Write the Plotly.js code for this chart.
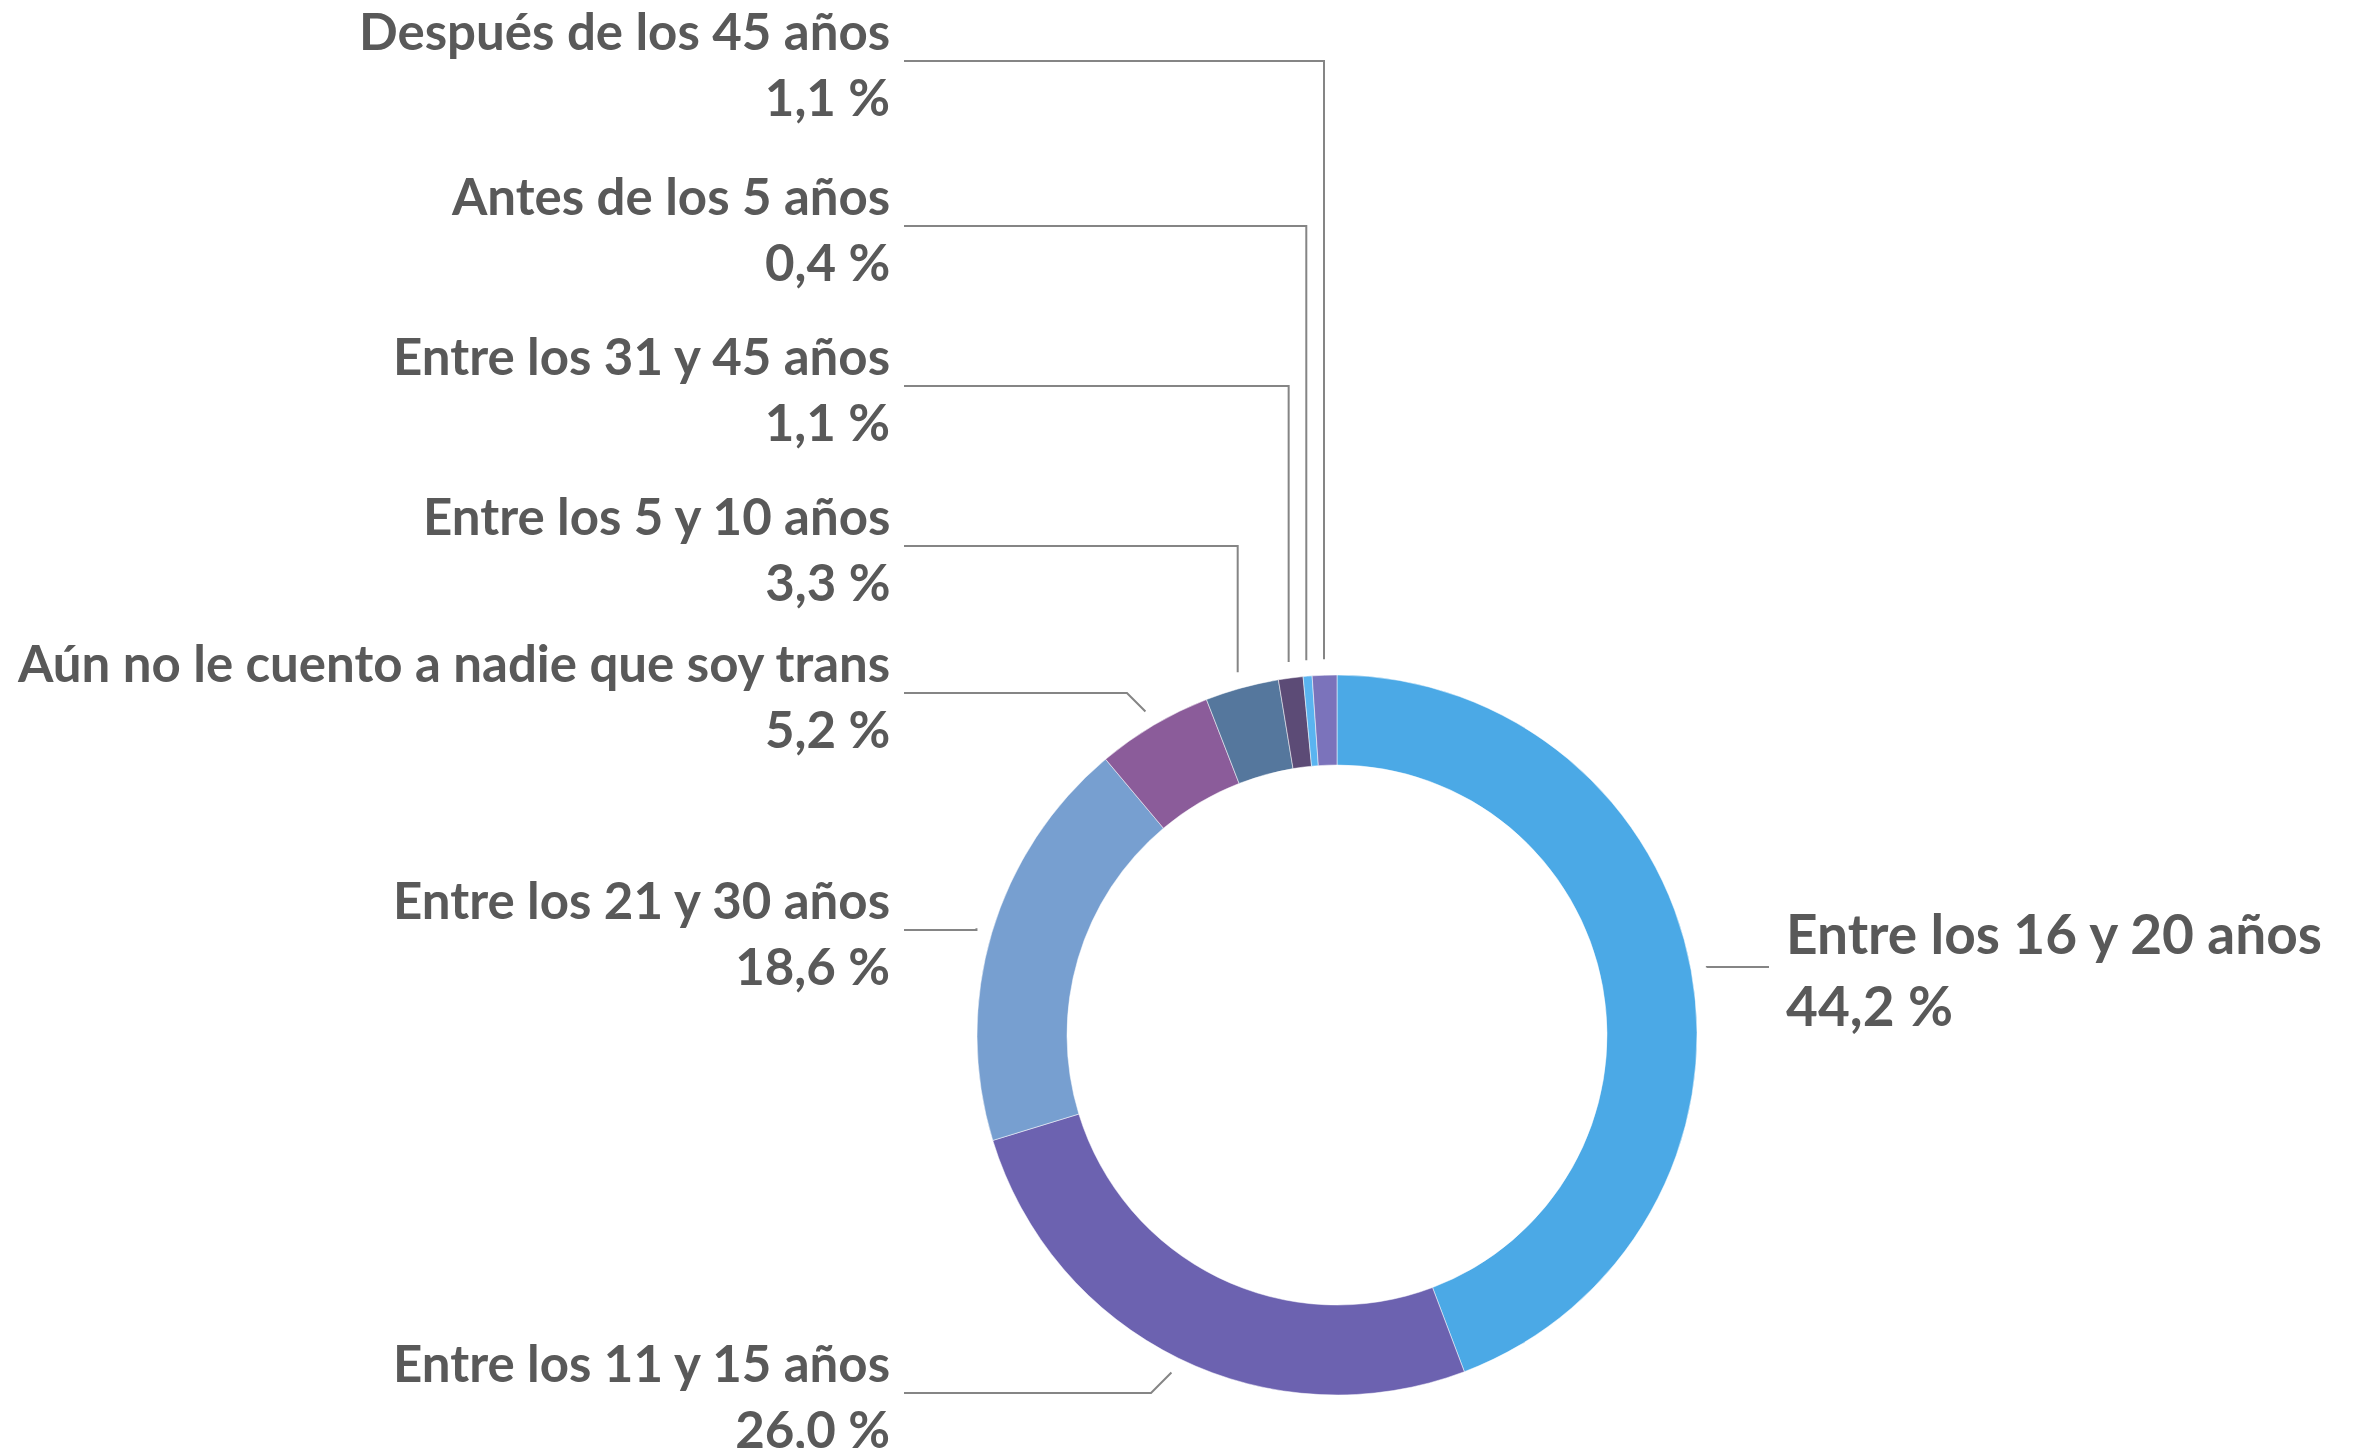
<!DOCTYPE html>
<html><head><meta charset="utf-8">
<script src="https://cdn.plot.ly/plotly-3.0.1.min.js"></script>
<style>html,body{margin:0;padding:0;background:#fff}#chart{width:2365px;height:1448px}</style>
</head><body><div id="chart"></div>
<script>
// ---- data ----
const categories = ["Entre los 16 y 20 años","Entre los 11 y 15 años","Entre los 21 y 30 años","Aún no le cuento a nadie que soy trans","Entre los 5 y 10 años","Entre los 31 y 45 años","Antes de los 5 años","Después de los 45 años"];
const values = [44.2, 26.0, 18.6, 5.2, 3.3, 1.1, 0.4, 1.1];
const colors = ["#4BA9E6","#6C62B0","#779FD0","#8B5C9A","#55779D","#5C4B76","#5AB4F0","#7B73BB"];

// ---- layout config (pixels) ----
const W = 2365, H = 1448;
const cx = 1337, cy = 1035, R = 360, hole = 0.75;
const labelLineY = [967, 1393, 930, 693, 546, 386, 226, 61];
const labelSide  = ["right","left","left","left","left","left","left","left"];
const leftTextX = 892, leftLineX = 904, rightTextX = 1784, rightLineX = 1769;
const textColor = "#595959", lineColor = "#858585";
const fontFamily = "Lato, 'Open Sans', sans-serif";

function fmt(v){ return v.toFixed(1).replace('.', ',') + ' %'; }

const total = values.reduce((a,b)=>a+b,0);
let cum = 0;
const shapes = [], annotations = [];
values.forEach((v,i)=>{
  const th = (cum + v/2)/total*2*Math.PI;
  cum += v;
  const sx = cx + (R+16)*Math.sin(th);
  const sy = cy - (R+16)*Math.cos(th);
  const ly = labelLineY[i];
  const dy = sy - ly;
  let path;
  if (labelSide[i] === 'left') {
    let ex;
    if (Math.abs(dy) < 3) ex = sx;
    else if (Math.abs(dy) < 60) ex = sx - Math.abs(dy);
    else ex = sx;
    path = `M ${leftLineX} ${ly} L ${ex} ${ly} L ${sx} ${sy}`;
    annotations.push({xref:'x', yref:'y', x:leftTextX, y:ly+2, xanchor:'right', yanchor:'middle', align:'right',
      showarrow:false, text: categories[i] + '<br>' + fmt(v),
      font:{family:fontFamily, size:51, color:textColor, weight:700}});
  } else {
    let ex = Math.abs(dy) < 3 ? sx : sx + Math.abs(dy);
    path = `M ${rightLineX} ${ly} L ${ex} ${ly} L ${sx} ${sy}`;
    annotations.push({xref:'x', yref:'y', x:rightTextX, y:ly+2, xanchor:'left', yanchor:'middle', align:'left',
      showarrow:false, text: categories[i] + '<br>' + fmt(v),
      font:{family:fontFamily, size:55, color:textColor, weight:700}});
  }
  shapes.push({type:'path', xref:'x', yref:'y', path, line:{color:lineColor, width:2}});
});

const trace = {
  type:'pie', labels:categories, values:values, sort:false, direction:'clockwise', rotation:0,
  hole:hole, textinfo:'none', hoverinfo:'label+value', showlegend:false,
  marker:{colors:colors, line:{color:'rgba(255,255,255,0.5)', width:1}},
  domain:{x:[(cx-R)/W, (cx+R)/W], y:[(H-cy-R)/H, (H-cy+R)/H]}
};

const layout = {
  width:W, height:H, margin:{l:0,r:0,t:0,b:0}, paper_bgcolor:'#fff', plot_bgcolor:'rgba(0,0,0,0)',
  xaxis:{range:[0,W], visible:false, fixedrange:true},
  yaxis:{range:[H,0], visible:false, fixedrange:true},
  shapes, annotations, showlegend:false
};
Plotly.newPlot('chart', [trace], layout, {staticPlot:true});
</script></body></html>
